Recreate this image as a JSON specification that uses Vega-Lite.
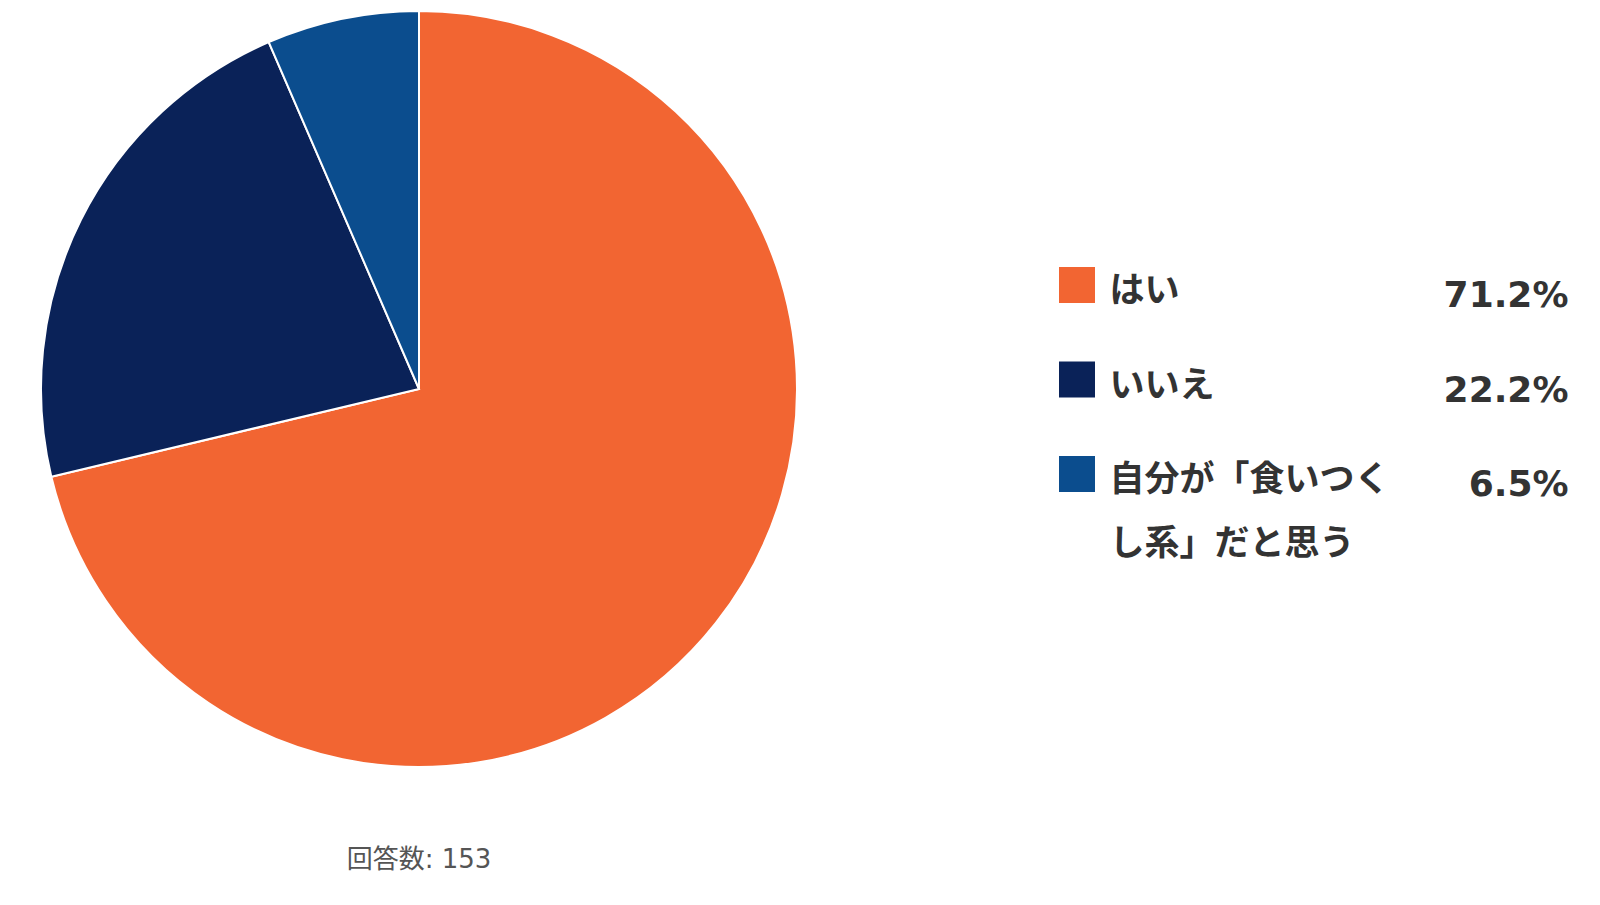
{
  "$schema": "https://vega.github.io/schema/vega-lite/v6.json",
  "background": "white",
  "padding": {"left": 37, "top": 7, "right": 0, "bottom": 0},
  "data": {
    "values": [
      {"answer": "はい", "label": "はい", "share": 0.712, "order": 1},
      {"answer": "いいえ", "label": "いいえ", "share": 0.222, "order": 2},
      {"answer": "自分が「食いつくし系」だと思う", "label": "自分が「食いつく\nし系」だと思う", "share": 0.065, "order": 3}
    ]
  },
  "bounds": "flush",
  "spacing": 262,
  "hconcat": [
    {
      "width": 756,
      "height": 756,
      "title": {
        "text": "回答数: 153",
        "orient": "bottom",
        "offset": 76,
        "fontSize": 26,
        "fontWeight": "normal",
        "font": "DejaVu Sans, Noto Sans CJK JP",
        "color": "#555555"
      },
      "mark": {"type": "arc", "stroke": "white", "strokeWidth": 2},
      "encoding": {
        "theta": {"field": "share", "type": "quantitative", "stack": true},
        "order": {"field": "order", "type": "quantitative"},
        "color": {
          "field": "answer",
          "type": "nominal",
          "legend": null,
          "scale": {
            "domain": ["はい", "いいえ", "自分が「食いつくし系」だと思う"],
            "range": ["#F26532", "#0A2258", "#0B4D8E"]
          }
        }
      }
    },
    {
      "bounds": "flush",
      "spacing": 14,
      "hconcat": [
        {
          "width": 36,
          "height": 756,
          "mark": {"type": "square", "size": 1296, "opacity": 1, "filled": true},
          "encoding": {
            "y": {
              "field": "answer",
              "type": "nominal",
              "sort": {"field": "order"},
              "axis": null,
              "scale": {"type": "point", "padding": 0, "range": [274, 463]}
            },
            "color": {
              "field": "answer",
              "type": "nominal",
              "legend": null,
              "scale": {
                "domain": ["はい", "いいえ", "自分が「食いつくし系」だと思う"],
                "range": ["#F26532", "#0A2258", "#0B4D8E"]
              }
            }
          }
        },
        {
          "bounds": "flush",
          "spacing": 458,
          "hconcat": [
            {
              "width": 1,
              "height": 756,
              "mark": {
                "type": "text",
                "align": "left",
                "baseline": "alphabetic",
                "dy": 17,
                "lineBreak": "\n",
                "lineHeight": 64,
                "fontSize": 35,
                "fontWeight": "bold",
                "font": "Noto Sans CJK JP",
                "color": "#333333"
              },
              "encoding": {
                "y": {
                  "field": "answer",
                  "type": "nominal",
                  "sort": {"field": "order"},
                  "axis": null,
                  "scale": {"type": "point", "padding": 0, "range": [274, 463]}
                },
                "text": {"field": "label", "type": "nominal"}
              }
            },
            {
              "width": 1,
              "height": 756,
              "mark": {
                "type": "text",
                "align": "right",
                "baseline": "alphabetic",
                "dy": 22,
                "fontSize": 36,
                "fontWeight": "bold",
                "font": "DejaVu Sans",
                "color": "#333333"
              },
              "encoding": {
                "y": {
                  "field": "answer",
                  "type": "nominal",
                  "sort": {"field": "order"},
                  "axis": null,
                  "scale": {"type": "point", "padding": 0, "range": [274, 463]}
                },
                "text": {"field": "share", "type": "quantitative", "format": ".1%"}
              }
            }
          ]
        }
      ]
    }
  ],
  "config": {
    "view": {"stroke": null}
  }
}
